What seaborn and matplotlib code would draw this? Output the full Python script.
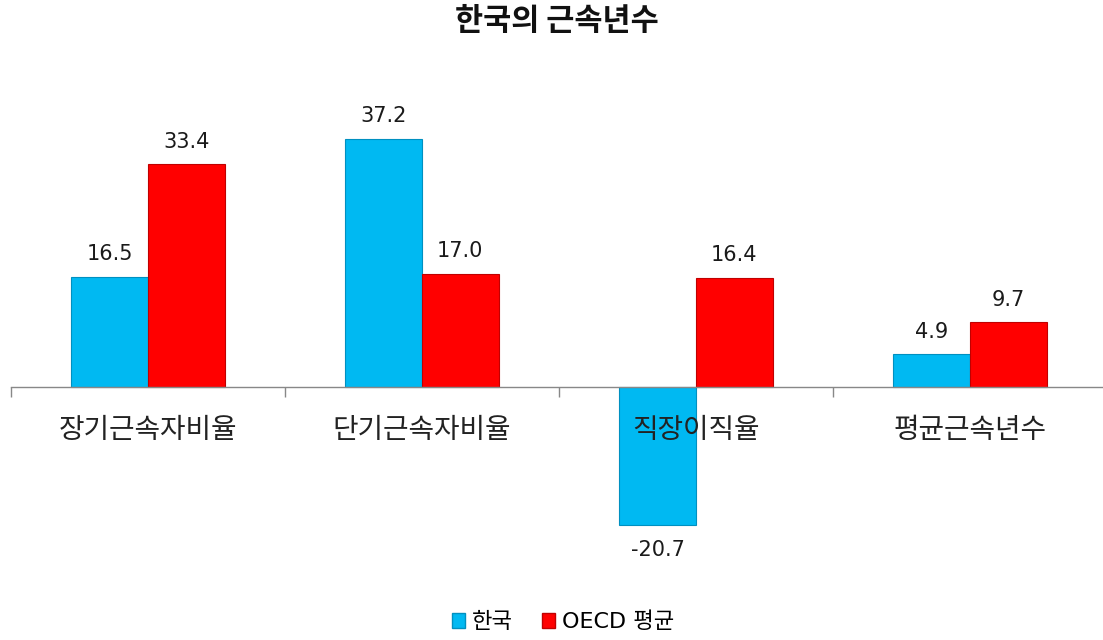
import matplotlib
matplotlib.use("Agg")
import matplotlib.pyplot as plt
import seaborn as sns
import pandas as pd
from matplotlib.ticker import FixedLocator
from matplotlib.patches import Patch

categories = ["장기근속자비율", "단기근속자비율", "직장이직율", "평균근속년수"]
korea = [16.5, 37.2, -20.7, 4.9]
oecd = [33.4, 17.0, 16.4, 9.7]
series_names = ["한국", "OECD 평균"]
value_labels_korea = ["16.5", "37.2", "-20.7", "4.9"]
value_labels_oecd = ["33.4", "17.0", "16.4", "9.7"]

plt.rcParams['font.family'] = ['Noto Sans CJK KR', 'DejaVu Sans']
latin_first = ['DejaVu Sans', 'Noto Sans CJK KR']

df = pd.DataFrame({
    "category": categories * 2,
    "series": [series_names[0]] * 4 + [series_names[1]] * 4,
    "value": korea + oecd,
})

colors = ["#00B9F2", "#FF0000"]
edges = ["#0090C0", "#C00000"]

W, H = 1103, 640
fig = plt.figure(figsize=(W / 100, H / 100), dpi=100)
y0px = 387
pxu = 6.67
top_px, bot_px = 60, 545
ax = fig.add_axes([11 / W, 1 - bot_px / H, 1096 / W, (bot_px - top_px) / H])

sns.barplot(data=df, x="category", y="value", hue="series", palette=colors,
            width=0.56, ax=ax, legend=False, saturation=1, errorbar=None)

for cont, ec in zip(ax.containers, edges):
    for p in cont:
        p.set_edgecolor(ec)
        p.set_linewidth(0.8)

ax.set_xlim(-0.5, 3.5)
ax.set_ylim(-(bot_px - y0px) / pxu, (y0px - top_px) / pxu)

for cont, labs in zip(ax.containers, [value_labels_korea, value_labels_oecd]):
    for p, lab in zip(cont, labs):
        h = p.get_height()
        xc = p.get_x() + p.get_width() / 2
        if h < 0:
            ax.annotate(lab, (xc, h), xytext=(0, -11), textcoords="offset points",
                        ha="center", va="top", fontsize=15, color="#1a1a1a",
                        family=latin_first)
        else:
            ax.annotate(lab, (xc, h), xytext=(0, 9), textcoords="offset points",
                        ha="center", va="bottom", fontsize=15, color="#1a1a1a",
                        family=latin_first)

for s in ["top", "right", "left"]:
    ax.spines[s].set_visible(False)
ax.spines["bottom"].set_position(("data", 0))
ax.spines["bottom"].set_color("#888888")
ax.spines["bottom"].set_linewidth(1.0)
ax.set_yticks([])
ax.set_xlabel("")
ax.set_ylabel("")
ax.xaxis.set_major_locator(FixedLocator([0, 1, 2, 3]))
ax.set_xticklabels(categories)
ax.tick_params(axis="x", which="major", length=0, pad=20, labelsize=20, labelcolor="#222222")
ax.xaxis.set_minor_locator(FixedLocator([-0.5, 0.5, 1.5, 2.5, 3.5]))
ax.tick_params(axis="x", which="minor", length=7, direction="out", color="#888888", width=1)
ax.xaxis.set_zorder(3)
ax.patch.set_visible(False)

fig.text(557 / W, 1 - 21 / H, "한국의 근속년수", ha="center", va="center",
         fontsize=22, fontweight="bold", color="#111111")

handles = [Patch(facecolor=colors[0], edgecolor=edges[0]),
           Patch(facecolor=colors[1], edgecolor=edges[1])]
fig.legend(handles, series_names, loc="center", bbox_to_anchor=(563 / W, 1 - 622 / H),
           ncol=2, frameon=False, prop={"family": latin_first, "size": 16},
           handlelength=0.6, handleheight=0.6, handletextpad=0.3, columnspacing=1.3)

fig.savefig("out.png", dpi=100)
